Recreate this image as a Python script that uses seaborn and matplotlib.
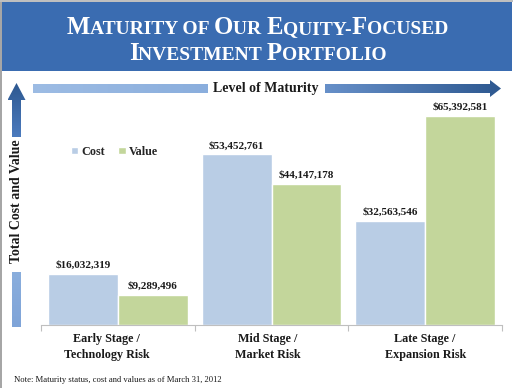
import numpy as np
import pandas as pd
import matplotlib
matplotlib.use("Agg")
import matplotlib.pyplot as plt
import seaborn as sns
from matplotlib.patches import Polygon, Rectangle
from matplotlib.offsetbox import TextArea, HPacker, AnnotationBbox
from matplotlib.transforms import ScaledTranslation

# Chart values
stages = ["Early Stage /\nTechnology Risk", "Mid Stage /\nMarket Risk", "Late Stage /\nExpansion Risk"]
series = ["Cost", "Value"]
cost = [16032319, 53452761, 32563546]
value = [9289496, 44147178, 65392581]

df = pd.DataFrame({
    "stage": stages * 2,
    "series": ["Cost"] * 3 + ["Value"] * 3,
    "amount": cost + value,
})

sns.set_theme(style="white")
plt.rcParams["font.family"] = ["Liberation Serif", "DejaVu Serif"]

W, H = 513, 388
fig = plt.figure(figsize=(W / 100, H / 100), dpi=100)

# overlay in pixel coordinates for the slide decoration
deco = fig.add_axes([0, 0, 1, 1])
deco.set_xlim(0, W)
deco.set_ylim(H, 0)
deco.axis("off")

# grey slide border + title banner
deco.add_patch(Rectangle((0, 0), 2, H, color="#A6A6A6", lw=0))
deco.add_patch(Rectangle((0, 0), W, 1.5, color="#BFBFBF", lw=0))
deco.add_patch(Rectangle((2, 2), W - 3, 69, color="#3A6CB1", lw=0))


def gradient_poly(pts, c1, c2, horizontal=True):
    poly = Polygon(pts, closed=True, facecolor="none", edgecolor="none")
    deco.add_patch(poly)
    xs = [p[0] for p in pts]
    ys = [p[1] for p in pts]
    cmap = matplotlib.colors.LinearSegmentedColormap.from_list("g", [c1, c2])
    grad = np.linspace(0, 1, 256)
    grad = grad[None, :] if horizontal else grad[:, None]
    im = deco.imshow(grad, cmap=cmap, aspect="auto",
                     extent=(min(xs), max(xs), max(ys), min(ys)), zorder=2)
    im.set_clip_path(poly)


# horizontal "Level of Maturity" arrow
gradient_poly([(33, 84), (208, 84), (208, 93), (33, 93)], "#9DBCE4", "#8AAEDD")
gradient_poly([(325, 84), (490, 84), (490, 80), (501, 88.5), (490, 97), (490, 93), (325, 93)],
              "#6790C9", "#2D5890")
# vertical arrow on the left
gradient_poly([(12, 137), (12, 100), (7.5, 100), (16.5, 83), (25.5, 100), (21, 100), (21, 137)],
              "#2D5890", "#4C7BBE", horizontal=False)
gradient_poly([(12, 272), (21, 272), (21, 327), (12, 327)], "#8AAEDD", "#7FA4D8", horizontal=False)
deco.text(266, 88.5, "Level of Maturity", ha="center", va="center",
          fontsize=10, fontweight="bold", color="#1A1A1A")
deco.text(14, 380, "Note: Maturity status, cost and values as of March 31, 2012",
          ha="left", va="center", fontsize=6.2, color="#1A1A1A")
deco.text(16.5, 201, "Total Cost and Value", ha="center", va="center", rotation=90,
          fontsize=10, fontweight="bold", color="#1A1A1A")
deco.set_xlim(0, W)
deco.set_ylim(H, 0)


def small_caps(text, big=17.8, small=14):
    parts = []
    run, run_big = "", None
    for ch in text:
        is_big = ch.isupper()
        if ch == " ":
            is_big = run_big if run_big is not None else False
        if run_big is None or is_big == run_big:
            run += ch
            run_big = is_big
        else:
            parts.append((run, run_big))
            run, run_big = ch, is_big
    parts.append((run, run_big))
    boxes = [TextArea(t.upper(), textprops=dict(fontsize=big if b else small, fontweight="bold",
                                                 color="white", family="Liberation Serif"))
             for t, b in parts]
    return HPacker(children=boxes, align="baseline", pad=0, sep=0)


for line, y in [("Maturity of Our Equity-Focused", 34), ("Investment Portfolio", 60)]:
    ab = AnnotationBbox(small_caps(line), (W / 2 + 1, H - y), xycoords="figure pixels",
                        box_alignment=(0.5, 0.2), frameon=False, pad=0)
    fig.add_artist(ab)

# main chart
ax = fig.add_axes([41 / W, (H - 325) / H, 461 / W, 223.3 / H])
ax.patch.set_alpha(0)
sns.barplot(data=df, x="stage", y="amount", hue="series", palette=["#B9CDE5", "#C3D69B"],
            saturation=1, width=0.91, gap=0, ax=ax)
ax.set_ylim(0, 70e6)
ax.set_xlim(-0.5, 2.5)

for cont, vals in zip(ax.containers, [cost, value]):
    ax.bar_label(cont, labels=[f"${v:,.0f}" for v in vals], padding=3,
                 fontsize=8, fontweight="bold", color="#1A1A1A")

for s in ["left", "top", "right"]:
    ax.spines[s].set_visible(False)
ax.spines["bottom"].set_color("#BFBFBF")
ax.spines["bottom"].set_linewidth(0.8)
ax.set_yticks([])
ax.set_xticks(range(3))
ax.set_xticklabels(stages, fontsize=8.7, fontweight="bold", color="#1A1A1A", linespacing=1.45)
ax.set_xticks([-0.5, 0.5, 1.5, 2.5], minor=True)
ax.tick_params(axis="x", which="major", length=0, pad=6)
ax.tick_params(axis="x", which="minor", length=4, color="#BFBFBF", width=0.8, direction="out", bottom=True)
for lab, dx in zip(ax.get_xticklabels(), [-11, -4, 0]):
    lab.set_transform(lab.get_transform() + ScaledTranslation(dx / 100, 0, fig.dpi_scale_trans))
ax.set_xlabel("")
ax.set_ylabel("")

handles, labels = ax.get_legend_handles_labels()
ax.legend(handles, labels, loc="center left", bbox_to_anchor=(0.064, 0.776), ncol=2,
          frameon=False, handlelength=0.6, handleheight=0.6, handletextpad=0.3,
          columnspacing=1.1, borderpad=0, borderaxespad=0,
          prop=dict(size=8.7, weight="bold", family="Liberation Serif"))

fig.savefig("out.png", dpi=100)
